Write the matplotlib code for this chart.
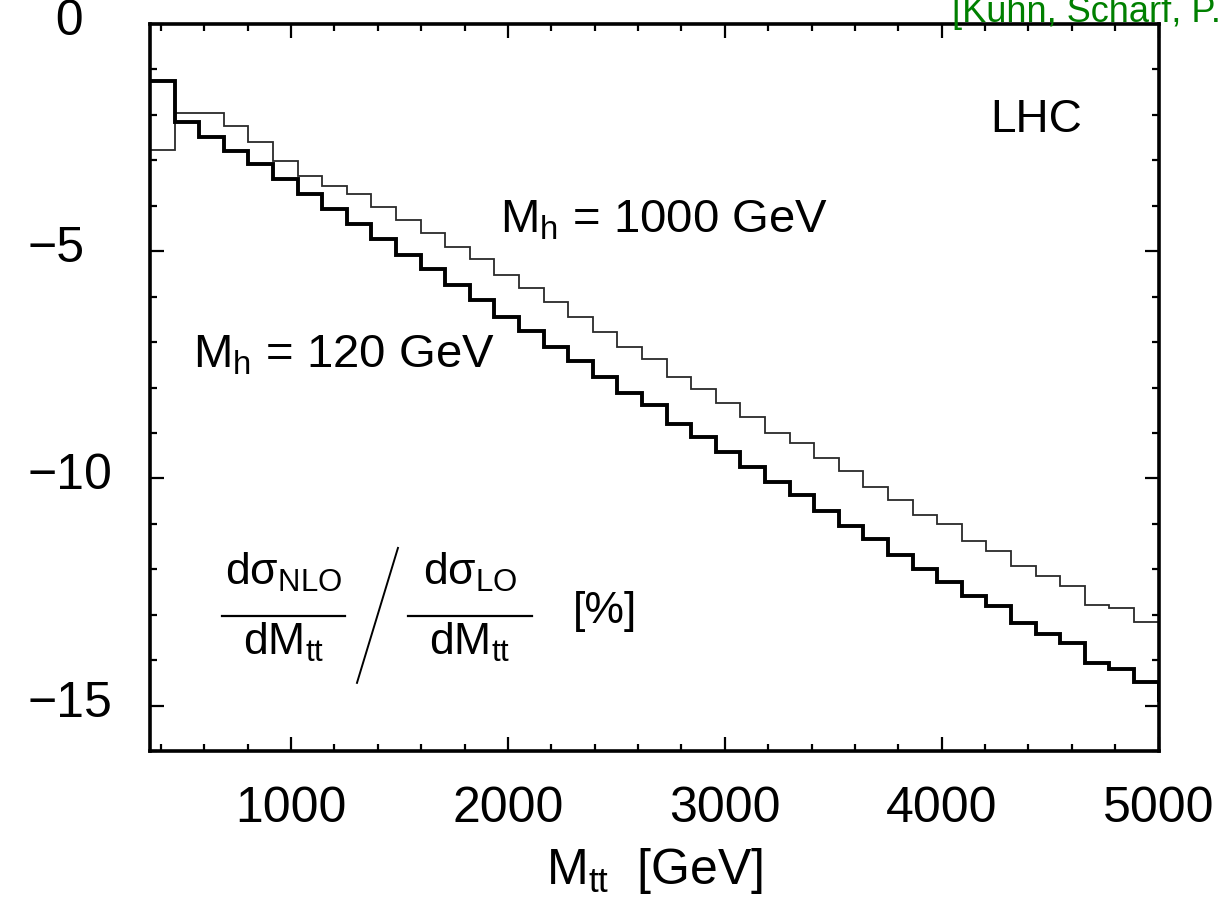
import numpy as np
import matplotlib
matplotlib.use("Agg")
import matplotlib.pyplot as plt
import matplotlib.transforms as mtransforms
from matplotlib.ticker import FixedLocator, FixedFormatter, MultipleLocator

plt.rcParams['font.family'] = ['Liberation Sans', 'DejaVu Sans']
plt.rcParams['mathtext.fontset'] = 'custom'
plt.rcParams['mathtext.rm'] = 'Liberation Sans'
plt.rcParams['mathtext.it'] = 'Liberation Sans:italic'
plt.rcParams['mathtext.bf'] = 'Liberation Sans:bold'

# ---- data ----
m_lo = 350.0
m_hi = 5000.0
n_bins = 41
# 42 values: the last bin lies beyond 5000 GeV and is clipped by the axis
ratio_mh120 = [-1.25, -2.16, -2.49, -2.79, -3.08, -3.40, -3.73, -4.08, -4.40, -4.74,
               -5.08, -5.40, -5.74, -6.07, -6.44, -6.75, -7.10, -7.42, -7.76, -8.11,
               -8.38, -8.81, -9.08, -9.41, -9.74, -10.09, -10.37, -10.71, -11.05, -11.34,
               -11.69, -12.00, -12.27, -12.59, -12.81, -13.18, -13.42, -13.63, -14.07, -14.20,
               -14.47, -14.88]
ratio_mh1000 = [-2.77, -1.95, -1.95, -2.24, -2.59, -3.01, -3.35, -3.57, -3.74, -4.02,
                -4.31, -4.59, -4.91, -5.18, -5.52, -5.82, -6.11, -6.45, -6.77, -7.10,
                -7.37, -7.76, -8.04, -8.35, -8.64, -9.00, -9.21, -9.56, -9.83, -10.18,
                -10.48, -10.81, -11.00, -11.37, -11.59, -11.93, -12.15, -12.37, -12.79, -12.86,
                -13.15, -13.48]
x_major = [1000, 2000, 3000, 4000, 5000]
x_labels = ['1000', '2000', '3000', '4000', '5000']
y_major = [0, -5, -10, -15]
y_labels = ['  0', '\u22125', '\u221210', '\u221215']

bin_w = (m_hi - m_lo) / n_bins
edges = m_lo + bin_w * np.arange(len(ratio_mh120) + 1)

fig = plt.figure(figsize=(12.21, 9.17), dpi=100)
ax = fig.add_axes([0.1229, 0.1810, 0.8260, 0.7928])

ax.stairs(ratio_mh1000, edges, baseline=None, color='#2a2a2a', lw=1.3)
ax.stairs(ratio_mh120, edges, baseline=None, color='black', lw=2.8)

ax.set_xlim(m_lo, m_hi)
ax.set_ylim(-16, 0)

for s in ax.spines.values():
    s.set_linewidth(2.6)

ax.xaxis.set_major_locator(FixedLocator(x_major))
ax.xaxis.set_major_formatter(FixedFormatter(x_labels))
ax.xaxis.set_minor_locator(MultipleLocator(200))
ax.yaxis.set_major_locator(FixedLocator(y_major))
ax.yaxis.set_major_formatter(FixedFormatter(y_labels))
ax.yaxis.set_minor_locator(MultipleLocator(1))

ax.tick_params(which='both', direction='in', top=True, right=True, width=1.6)
ax.tick_params(which='major', length=10)
ax.tick_params(which='minor', length=5)
ax.tick_params(axis='x', which='major', labelsize=36, pad=25)
ax.tick_params(axis='y', which='major', labelsize=36, pad=88)
lift = mtransforms.ScaledTranslation(0, 7 / 100.0, fig.dpi_scale_trans)
for lab in ax.get_yticklabels():
    lab.set_horizontalalignment('left')
    lab.set_transform(lab.get_transform() + lift)

ax.set_xlabel('M$_\\mathrm{tt}$  [GeV]', fontsize=36, labelpad=10)

ax.text(4435, -2.11, 'LHC', fontsize=33, ha='center', va='center')
ax.text(1964, -4.58, 'M$_\\mathrm{h}$ = 1000 GeV', fontsize=34, ha='left', va='baseline')
ax.text(548, -7.57, 'M$_\\mathrm{h}$ = 120 GeV', fontsize=34, ha='left', va='baseline')

# ratio label as two fractions
ax.text(965, -12.35, 'd\u03c3$_\\mathrm{NLO}$', fontsize=32, ha='center', va='baseline')
ax.plot([680, 1249], [-13.03, -13.03], color='black', lw=1.6)
ax.text(965, -13.89, 'dM$_\\mathrm{tt}$', fontsize=32, ha='center', va='baseline')
ax.plot([1493, 1304], [-11.53, -14.50], color='black', lw=1.4)
ax.text(1825, -12.35, 'd\u03c3$_\\mathrm{LO}$', fontsize=32, ha='center', va='baseline')
ax.plot([1541, 2110], [-13.03, -13.03], color='black', lw=1.6)
ax.text(1825, -13.89, 'dM$_\\mathrm{tt}$', fontsize=32, ha='center', va='baseline')
ax.text(2300, -13.18, '[%]', fontsize=32, ha='left', va='baseline')

fig.text(0.7797, 0.976, '[Kuhn, Scharf, P. Uwer]', fontsize=26, color='#008000',
         ha='left', va='baseline')

fig.savefig('out.png', dpi=100)
